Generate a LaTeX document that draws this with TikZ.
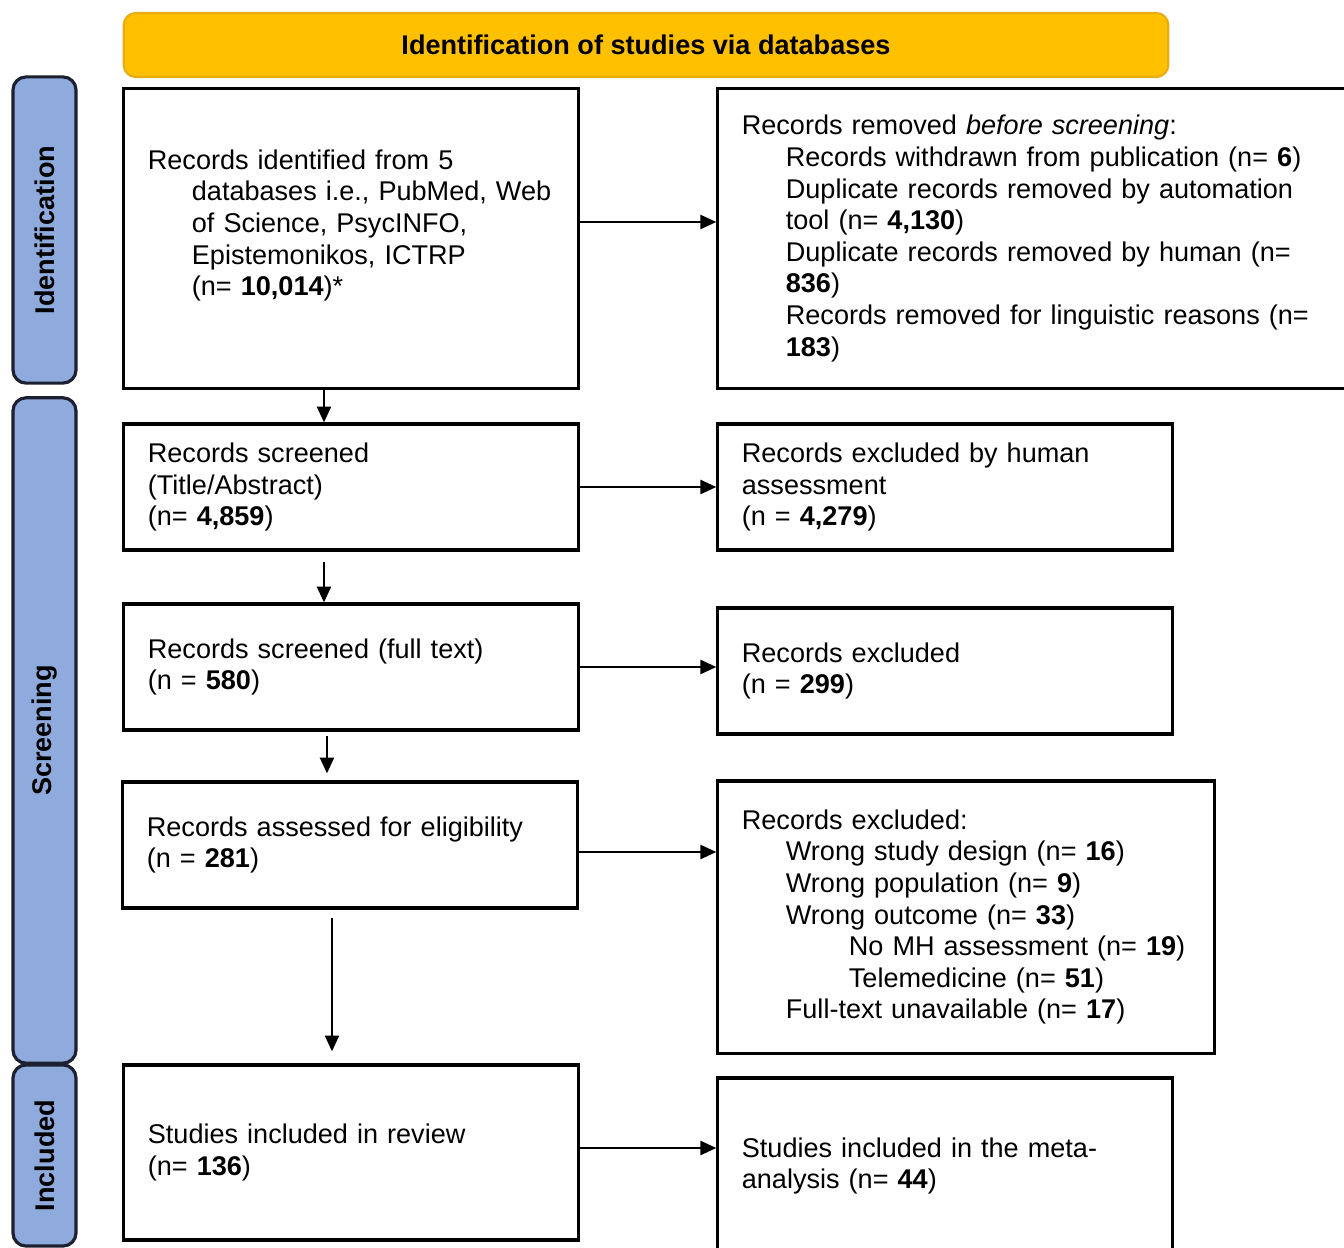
\documentclass[tikz,border=0pt]{standalone}
\usepackage{fontspec}
\setmainfont{Liberation Sans}
\usetikzlibrary{arrows.meta, positioning}
\definecolor{bannergold}{RGB}{255, 192, 0}
\definecolor{bannerrim}{RGB}{232, 172, 20}
\definecolor{phaseblue}{RGB}{143, 170, 220}
\definecolor{phaserim}{RGB}{28, 32, 48}
\newcommand{\indA}{\hspace*{0.44cm}}
\newcommand{\indB}{\hspace*{1.07cm}}
\tikzset{
  prismabox/.style={draw=black, line width=0.9pt, rectangle, align=left,
    inner xsep=0.24cm, inner ysep=0pt, font=\fontsize{7.7}{9}\selectfont},
  phasetab/.style={draw=phaserim, fill=phaseblue, line width=0.9pt,
    rounded corners=0.13cm, rotate=90, minimum height=0.63cm,
    font=\bfseries\fontsize{7.7}{9}\selectfont},
  bannerbox/.style={draw=bannerrim, fill=bannergold, line width=0.6pt,
    rounded corners=0.12cm, minimum width=10.44cm, minimum height=0.64cm,
    font=\bfseries\fontsize{7.7}{9}\selectfont},
  flowarrow/.style={-{Triangle[length=4.5pt, width=4pt]}, line width=0.6pt}
}

\begin{document}
\begin{tikzpicture}[x=0.01cm, y=-0.01cm]
  \useasboundingbox (0, 0) rectangle (1344, 1248);
  \clip (0, 0) rectangle (1344, 1248);

  % banner
  \node[bannerbox] (banner) at (646, 45) {Identification of studies via databases};

  % phase tabs
  \node[phasetab, minimum width=3.06cm] (tabId) at (44.5, 230) {Identification};
  \node[phasetab, minimum width=6.65cm] (tabScr) at (44.5, 730.5) {Screening};
  \node[phasetab, minimum width=1.81cm] (tabInc) at (44.5, 1155.5) {Included};

  % left column
  \node[prismabox, text width=4.06cm, minimum height=2.99cm] (recA) at (351, 238.5)
    {Records identified from 5\\
     \indA\mbox{databases i.e., PubMed, Web}\\
     \indA of Science, PsycINFO,\\
     \indA Epistemonikos, ICTRP\\
     \indA (n= \textbf{10,014})*\\ \mbox{}};
  \node[prismabox, text width=4.06cm, minimum height=1.26cm] (scrC) at (351, 487)
    {Records screened\\(Title/Abstract)\\(n= \textbf{4,859})};
  \node[prismabox, text width=4.06cm, minimum height=1.26cm] (fullE) at (351, 667)
    {Records screened (full text)\\(n = \textbf{580})};
  \node[prismabox, text width=4.06cm, minimum height=1.26cm] (eligG) at (350, 845)
    {Records assessed for eligibility\\(n = \textbf{281})};
  \node[prismabox, text width=4.06cm, minimum height=1.75cm] (incI) at (351, 1152.5)
    {Studies included in review\\(n= \textbf{136})};

  % right column
  \node[prismabox, text width=5.86cm, minimum height=2.99cm] (rmvB) at (1035, 238.5)
    {Records removed \textit{before screening}:\\
     \indA Records withdrawn from publication (n= \textbf{6})\\
     \indA Duplicate records removed by automation\\
     \indA tool (n= \textbf{4,130})\\
     \indA Duplicate records removed by human (n=\\
     \indA \textbf{836})\\
     \indA Records removed for linguistic reasons (n=\\
     \indA \textbf{183})};
  \node[prismabox, text width=4.06cm, minimum height=1.26cm] (exclD) at (945, 487)
    {Records excluded by human\\assessment\\(n = \textbf{4,279})};
  \node[prismabox, text width=4.06cm, minimum height=1.26cm] (exclF) at (945, 671)
    {Records excluded\\(n = \textbf{299})};
  \node[prismabox, text width=4.48cm, minimum height=2.72cm] (exclH) at (966, 917)
    {Records excluded:\\
     \indA Wrong study design (n= \textbf{16})\\
     \indA Wrong population (n= \textbf{9})\\
     \indA Wrong outcome (n= \textbf{33})\\
     \indB No MH assessment (n= \textbf{19})\\
     \indB Telemedicine (n= \textbf{51})\\
     \indA Full-text unavailable (n= \textbf{17})};
  \node[prismabox, text width=4.06cm, minimum height=1.76cm] (metaJ) at (945, 1166)
    {Studies included in the meta-\\analysis (n= \textbf{44})};

  % arrows
  \draw[flowarrow] ([yshift=0.165cm]recA.east) -- ([yshift=0.165cm]recA.east -| rmvB.west);
  \draw[flowarrow] ([xshift=-0.27cm]recA.south) -- ([xshift=-0.27cm]recA.south |- scrC.north);
  \draw[flowarrow] (scrC.east) -- (scrC.east -| exclD.west);
  \draw[flowarrow, shorten <=0.1cm] ([xshift=-0.27cm]scrC.south) -- ([xshift=-0.27cm]scrC.south |- fullE.north);
  \draw[flowarrow] (fullE.east) -- (fullE.east -| exclF.west);
  \draw[flowarrow, shorten <=0.04cm, shorten >=0.07cm] ([xshift=-0.24cm]fullE.south) -- ([xshift=-0.24cm]fullE.south |- eligG.north);
  \draw[flowarrow] ([yshift=-0.07cm]eligG.east) -- ([yshift=-0.07cm]eligG.east -| exclH.west);
  \draw[flowarrow, shorten <=0.08cm, shorten >=0.12cm] ([xshift=-0.18cm]eligG.south) -- ([xshift=-0.18cm]eligG.south |- incI.north);
  \draw[flowarrow] ([yshift=0.045cm]incI.east) -- ([yshift=0.045cm]incI.east -| metaJ.west);
\end{tikzpicture}
\end{document}
